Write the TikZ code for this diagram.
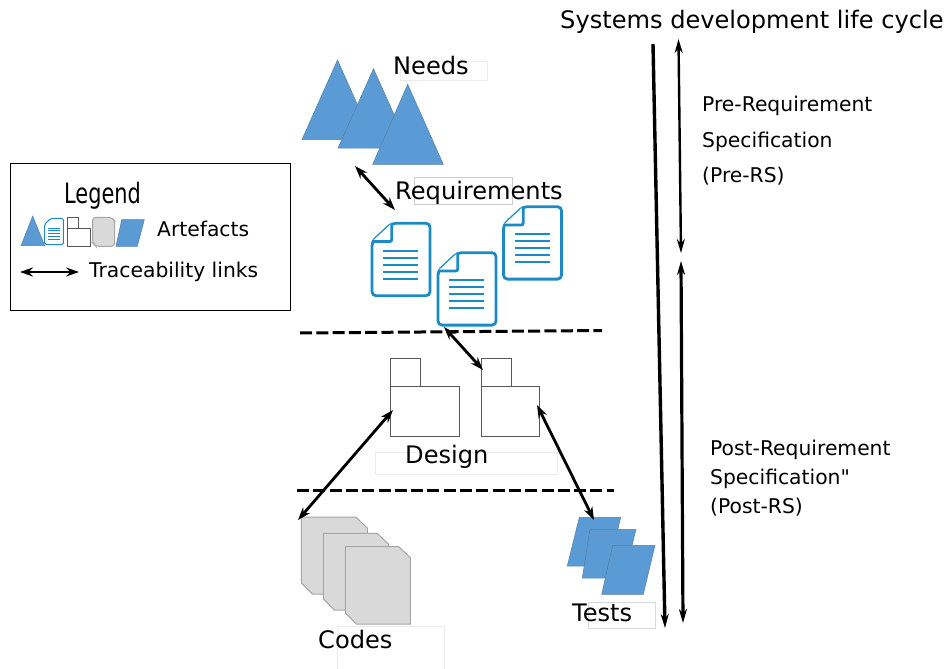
\documentclass[tikz,border=0pt]{standalone}
\usepackage{fontspec}
\setmainfont{DejaVu Sans}
\newfontfamily\plainquote{DejaVu Sans}
\usetikzlibrary{arrows.meta,positioning}
\definecolor{triblue}{HTML}{5B9BD5}
\definecolor{triedge}{HTML}{5A7F9F}
\definecolor{docblue}{HTML}{1B8AC6}
\definecolor{codegray}{HTML}{D9D9D9}
\definecolor{codeedge}{HTML}{A6A6A6}
\definecolor{foldedge}{HTML}{595959}
\tikzset{
  tri/.style={fill=triblue, draw=triedge, line width=0.5pt},
  docu/.style={fill=white, draw=docblue, line width=2.8pt, rounded corners=4pt},
  docline/.style={draw=docblue, line width=2pt},
  folder/.style={fill=white, draw=foldedge, line width=1pt},
  codeshape/.style={fill=codegray, draw=codeedge, line width=1pt},
  trace/.style={{Stealth[length=13pt,width=9pt]}-{Stealth[length=13pt,width=9pt]}, line width=2.8pt},
  phase/.style={dash pattern=on 12pt off 4.3pt, line width=3pt},
  ghost/.style={draw=black!8, line width=0.7pt},
  big/.style={font=\fontsize{24.1}{28}\selectfont, anchor=base west, inner sep=0pt},
  note/.style={font=\fontsize{20.3}{24}\selectfont, anchor=base west, inner sep=0pt},
}
\begin{document}
\begin{tikzpicture}[x=1pt,y=-1pt]
\useasboundingbox (0,0) rectangle (946,669);

% faint empty boxes behind the labels
\draw[ghost] (400.7,61.3) rectangle (487.3,80);
\draw[draw=black!20, line width=0.7pt] (414.7,177.3) rectangle (512.3,204);
\draw[ghost] (375.7,452.3) rectangle (557.3,474);
\draw[ghost] (337.3,669) -- (337.3,626.5) -- (444.3,626.5) -- (444.3,669);
\draw[draw=black!15, line width=0.7pt] (588.7,602.7) rectangle (655.3,628);

% needs
\foreach \L/\A/\R/\T/\B in {302/337.5/373/60/139.5, 338/373.5/409/68.7/148, 372.7/407.7/443.3/84.3/164.3}{
  \draw[tri] (\L,\B) -- (\A,\T) -- (\R,\B) -- cycle;
}

% requirements
\foreach \X/\Y in {372/223.3, 438/252.7, 503.5/206.7}{
  \begin{scope}[shift={(\X,\Y)}]
    \draw[docu] (19.7,0) -- (58,0) -- (58,72.4) -- (0,72.4) -- (0,18.3) -- cycle;
    \draw[docu, rounded corners=2pt] (0,18.3) -- (19.7,18.3) -- (19.7,0);
    \foreach \K in {27.3,34.3,41.3,48.3,55.3}{
      \draw[docline] (11.3,\K) -- (46.3,\K);
    }
  \end{scope}
}

% design
\foreach \X/\W in {390.3/69, 481.7/57.6}{
  \begin{scope}[shift={(\X,358.7)}]
    \draw[folder] (0,0) rectangle (30,28);
    \draw[folder] (0,28) rectangle (\W,77.6);
  \end{scope}
}

% codes
\foreach \X/\Y/\R/\B in {301.3/517/367.3/594, 323.3/533.3/388.7/610, 345.3/546.7/410.3/624}{
  \draw[codeshape] (\X,\Y) -- ({\R-11.5},\Y) -- (\R,{\Y+11}) -- (\R,\B)
    -- ({\X+11},\B) -- (\X,{\B-11}) -- cycle;
}

% tests
\foreach \A/\C/\D/\E/\T/\B in {579.3/620.7/609/567.3/517.3/566, 590/636/624/582.3/529.3/578, 612.7/655/643.3/601.7/545.3/594.3}{
  \draw[tri] (\A,\T) -- (\C,\T) -- (\D,\B) -- (\E,\B) -- cycle;
}

% phase separators
\draw[phase] (300,333) -- (602,330.5);
\draw[phase] (297,490) -- (614,490);

% ends of the links
\coordinate (needsEnd) at (355,166);
\coordinate (reqEnd) at (395,210);
\coordinate (reqLow) at (444,327);
\coordinate (designTop) at (483,370);
\coordinate (designLeft) at (393,410);
\coordinate (codesEnd) at (298,520);
\coordinate (designRight) at (537,405);
\coordinate (testsEnd) at (594,520);
\draw[trace] (needsEnd) -- (reqEnd);
\draw[trace] (reqLow) -- (designTop);
\draw[trace] (designLeft) -- (codesEnd);
\draw[trace] (designRight) -- (testsEnd);

% life cycle arrows
\coordinate (cycleTop) at (653,44);
\coordinate (cycleEnd) at (665,628);
\coordinate (preTop) at (678.5,39);
\coordinate (preEnd) at (681,253);
\coordinate (postTop) at (681,261);
\coordinate (postEnd) at (683,623);
\draw[-{Stealth[length=14pt,width=8pt]}, line width=3.4pt] (cycleTop) -- (cycleEnd);
\draw[{Stealth[length=14pt,width=8pt]}-{Stealth[length=14pt,width=8pt]}, line width=2.4pt] (preTop) -- (preEnd);
\draw[{Stealth[length=14pt,width=8pt]}-{Stealth[length=14pt,width=8pt]}, line width=3.2pt] (postTop) -- (postEnd);

% labels
\node[big] (title) at (560,29) {Systems development life cycle};
\node[big] (needs) at (393,75) {Needs};
\node[big] (reqs) at (395,199) {Requirements};
\node[big] (design) at (405,463) {Design};
\node[big] (codes) at (318,648) {Codes};
\node[big] (tests) at (572,621) {Tests};
\node[note] (preA) at (702,111) {Pre-Requirement};
\node[note] (preB) at (702,147) {Specification};
\node[note] (preC) at (702,182) {(Pre-RS)};
\node[note] (postA) at (710,455) {Post-Requirement};
\node[note] (postB) at (710,484) {Specification{\plainquote "}};
\node[note] (postC) at (710,513) {(Post-RS)};

% legend
\draw[line width=1.1pt] (10.7,163.7) rectangle (290.7,310.7);
\node[anchor=base west, inner sep=0pt] (legend) at (64,203) {\scalebox{0.745}[1]{\fontsize{28}{32}\selectfont Legend}};
\draw[tri] (21,245.7) -- (32.7,216) -- (44.7,245.7) -- cycle;
\begin{scope}[shift={(44.7,218.3)}, scale=0.32]
  \draw[docu, line width=1pt, rounded corners=1.5pt] (19.7,0) -- (58,0) -- (58,82) -- (0,82) -- (0,18.3) -- cycle;
  \foreach \K in {30,39,48,57,66}{
    \draw[docline, line width=0.8pt] (11.3,\K) -- (46.3,\K);
  }
\end{scope}
\draw[folder] (67.7,217.7) rectangle (78.3,228.3);
\draw[folder] (67.7,228.3) rectangle (90.7,246.3);
\draw[codeshape, rounded corners=3pt] (92.7,217.3) -- (112,217.3) -- (114.7,221) -- (114.7,246.3) -- (96,246.3) -- (92.7,243) -- cycle;
\draw[tri] (121.7,219.7) -- (144.3,219.7) -- (137.3,246.3) -- (116,246.3) -- cycle;
\node[note] (artefacts) at (157,236) {Artefacts};
\coordinate (keyLeft) at (20,272);
\coordinate (keyRight) at (79,272);
\draw[trace] (keyLeft) -- (keyRight);
\node[note] (traceKey) at (89,277) {Traceability links};

\end{tikzpicture}
\end{document}
